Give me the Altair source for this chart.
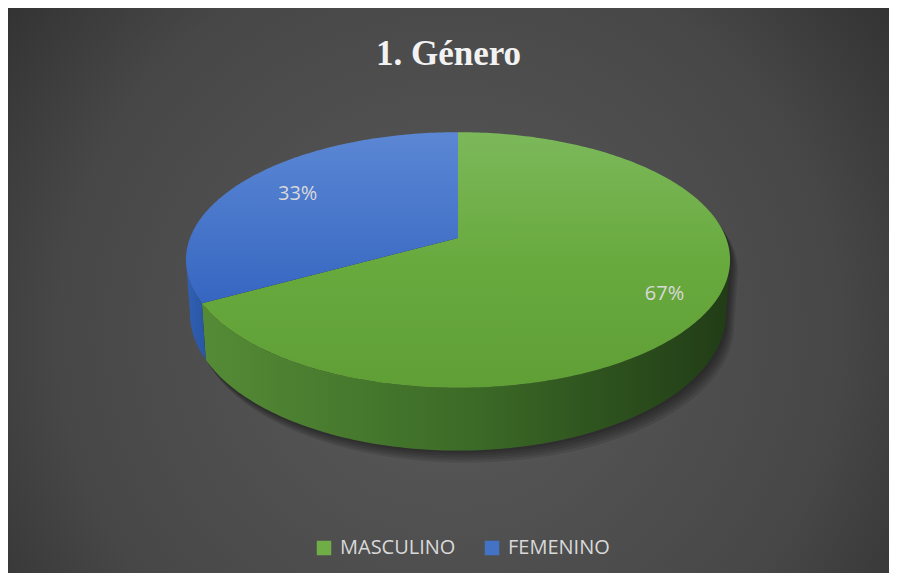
import numpy as np
import pandas as pd
import altair as alt

# ---- data ----
categories = ["MASCULINO", "FEMENINO"]
values = [67, 33]
labels = ["67%", "33%"]
base_colors = ["#70AD47", "#4472C4"]
label_radius = [0.83, 0.74]
title_text = "1. Género"

# ---- layout / 3D projection constants ----
W, H = 881, 565
CX, CY = 450.0, 230.0
RX, RY = 268.0, 124.0
P = 0.172          # perspective strength
DEPTH = 52.0       # thickness of the pie
BK = 0.985         # bottom rim shrink


def proj(theta_deg, r=1.0, drop=0.0, k=1.0):
    t = np.radians(theta_deg)
    a = r * np.sin(t)
    b = -r * np.cos(t)
    s = 1.0 / (1.0 - P * b)
    return CX + RX * a * s * k, CY + RY * b * s + drop * s


total = float(sum(values))
bounds = np.concatenate([[0.0], np.cumsum(values) / total * 360.0])

# silhouette angles (extreme x of the top rim)
grid = np.linspace(0, 360, 3601)
gx, _ = proj(grid)
th_right = grid[np.argmax(gx)]
th_left = grid[np.argmin(gx)]


def arc(a0, a1, n=None, **kw):
    n = n or max(int(abs(a1 - a0)) + 2, 3)
    th = np.linspace(a0, a1, n)
    return proj(th, **kw)


def poly_df(xs, ys):
    return pd.DataFrame({"i": np.arange(len(xs)), "x": xs, "y": ys})


# top faces
top_faces = []
for k in range(len(categories)):
    ax, ay = arc(bounds[k], bounds[k + 1])
    xs = np.concatenate([[CX], ax, [CX]])
    ys = np.concatenate([[CY], ay, [CY]])
    top_faces.append(poly_df(xs, ys))

# side walls (visible front part)
side_faces = []
for k in range(len(categories)):
    a0 = max(bounds[k], th_right)
    a1 = min(bounds[k + 1], th_left)
    if a1 <= a0:
        side_faces.append(None)
        continue
    tx, ty = arc(a0, a1)
    bx, by = arc(a1, a0, drop=DEPTH, k=BK)
    side_faces.append(poly_df(np.concatenate([tx, bx]), np.concatenate([ty, by])))

# outline for shadow
ox1, oy1 = arc(th_left - 360, th_right)
ox2, oy2 = arc(th_right, th_left, drop=DEPTH, k=BK)
outline_x = np.concatenate([ox1, ox2])
outline_y = np.concatenate([oy1, oy2])

# label positions
mids = (bounds[:-1] + bounds[1:]) / 2
lx, ly = proj(mids, r=np.array(label_radius))
label_df = pd.DataFrame({"cat": categories, "label": labels, "x": lx, "y": ly})
legend_df = pd.DataFrame({"cat": categories, "x": [CX, CX], "y": [CY, CY]})

xs = alt.Scale(domain=[0, W], nice=False, zero=False)
ys = alt.Scale(domain=[0, H], nice=False, zero=False, reverse=True)
X = lambda: alt.X("x:Q", scale=xs, axis=None)
Y = lambda: alt.Y("y:Q", scale=ys, axis=None)


def lin(stops, x1=0, y1=0, x2=0, y2=1):
    return alt.Gradient(
        gradient="linear",
        stops=[alt.GradientStop(color=c, offset=o) for o, c in stops],
        x1=x1, y1=y1, x2=x2, y2=y2,
    )


def polygon(df, fill, **kw):
    return alt.Chart(df).mark_line(fill=fill, strokeWidth=0, **kw).encode(
        x=X(), y=Y(), order=alt.Order("i:Q")
    )


bg = alt.Chart(pd.DataFrame({"k": [0]})).mark_rect(
    fill=alt.Gradient(
        gradient="radial",
        stops=[
            alt.GradientStop(color="#5a5a5a", offset=0),
            alt.GradientStop(color="#474747", offset=0.6),
            alt.GradientStop(color="#262626", offset=1),
        ],
        x1=0.5, y1=0.55, r1=0, x2=0.5, y2=0.55, r2=0.74,
    )
).encode(x=alt.value(0), x2=alt.value(W), y=alt.value(0), y2=alt.value(H))

shadows = [
    polygon(poly_df(outline_x + d * 0.8, outline_y + d * 1.2), "#000000", opacity=0.1)
    for d in (2, 4, 6, 8, 10)
]

legend_layer = alt.Chart(legend_df).mark_square(size=4).encode(
    x=X(), y=Y(),
    fill=alt.Fill("cat:N", scale=alt.Scale(domain=categories, range=base_colors),
                  sort=categories, legend=alt.Legend(title=None)),
)

top_fills = [
    lin([(0, "#7cb85a"), (0.5, "#69aa3f"), (1, "#5f9f35")]),
    lin([(0, "#5b87d4"), (1, "#3666c1")]),
]
side_fills = [
    lin([(0, "#558b36"), (0.5, "#3c6b27"), (1, "#213c16")], x2=1, y2=0),
    lin([(0, "#3161b5"), (1, "#2a55a3")], x2=1, y2=0),
]

sides = [polygon(df, f) for df, f in zip(side_faces, side_fills) if df is not None]
tops = [polygon(df, f) for df, f in zip(top_faces, top_fills)]

text = alt.Chart(label_df).mark_text(
    font="Open Sans", fontSize=20, color="#d9d9d9"
).encode(x=X(), y=Y(), text="label:N")

chart = alt.layer(bg, *shadows, legend_layer, *sides, *tops, text).properties(
    width=W, height=H,
    padding=0,
    autosize=alt.AutoSizeParams(type="none"),
    title=alt.TitleParams(
        title_text, font="Liberation Serif", fontSize=35,
        fontWeight="bold", color="#f2f2f2", anchor="middle", frame="group",
        orient="top", offset=-64,
    ),
).configure_view(strokeWidth=0).configure(background="#262626").configure_legend(
    orient="none", legendX=306, legendY=530, direction="horizontal",
    labelFont="Open Sans", labelFontSize=20, labelColor="#d9d9d9",
    symbolType="square", symbolSize=210, symbolStrokeWidth=0, labelOffset=6,
    columnPadding=26, symbolOpacity=1,
)

chart.save("out.html", embed_options={"renderer": "svg", "actions": False})
